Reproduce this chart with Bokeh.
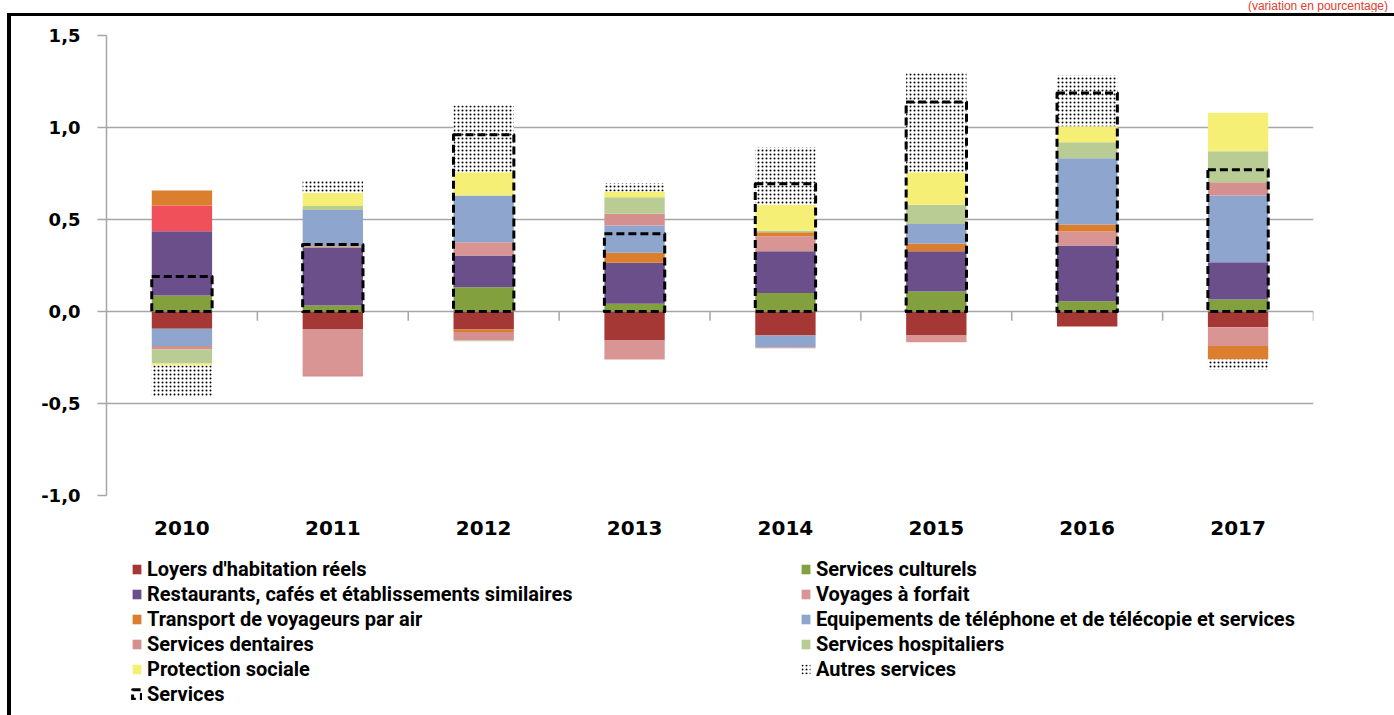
import numpy as np
from bokeh.plotting import figure
from bokeh.layouts import column
from bokeh.models import Range1d, FixedTicker, Legend, LegendItem, Div
from bokeh.embed import file_html
from bokeh.resources import INLINE

# ---------------- data ----------------
years = ["2010", "2011", "2012", "2013", "2014", "2015", "2016", "2017"]

loyers       = [-0.094, -0.098, -0.098, -0.158, -0.130, -0.130, -0.082, -0.085]
culturels    = [0.087, 0.033, 0.132, 0.042, 0.100, 0.109, 0.056, 0.065]
restaurants  = [0.349, 0.313, 0.172, 0.223, 0.228, 0.219, 0.303, 0.203]
voyages      = [0.140, -0.241, 0.073, -0.103, 0.081, -0.037, 0.076, -0.103]
transport    = [0.082, 0.006, -0.014, 0.054, 0.022, 0.040, 0.038, -0.073]
equipements  = [-0.094, 0.200, 0.253, 0.148, -0.064, 0.108, 0.360, 0.362]
dentaires    = [-0.018, -0.014, -0.046, 0.064, -0.006, 0.000, 0.000, 0.073]
hospitaliers = [-0.077, 0.022, -0.004, 0.090, 0.009, 0.104, 0.087, 0.168]
protection   = [-0.010, 0.072, 0.127, 0.031, 0.140, 0.177, 0.087, 0.209]
autres       = [-0.169, 0.068, 0.363, 0.047, 0.313, 0.538, 0.276, -0.054]
services     = [0.190, 0.364, 0.960, 0.422, 0.694, 1.138, 1.188, 0.770]

series_names = [
    "Loyers d'habitation réels",
    "Services culturels",
    "Restaurants, cafés et établissements similaires",
    "Voyages à forfait",
    "Transport de voyageurs par air",
    "Equipements de téléphone et de télécopie et services",
    "Services dentaires",
    "Services hospitaliers",
    "Protection sociale",
    "Autres services",
]
series_values = [loyers, culturels, restaurants, voyages, transport,
                 equipements, dentaires, hospitaliers, protection, autres]
services_name = "Services"

y_ticks = [-1.0, -0.5, 0.0, 0.5, 1.0, 1.5]
y_tick_labels = ["-1,0", "-0,5", "0,0", "0,5", "1,0", "1,5"]

unit_text = "(variation en pourcentage)"

# ---------------- styles ----------------
colors = ["#A53834", "#83A03E", "#6A4F8B", "#D99594", "#DB7E2E",
          "#8EA6CD", "#D4908F", "#B9CC94", "#F5F075", "#FFFFFF"]
GRID = "#A6A6A6"
TICK_FONT = "DejaVu Sans"
LEG_FONT = "Roboto"
HATCH = dict(hatch_pattern="dot", hatch_color="black", hatch_scale=4, hatch_weight=2)
SERV = dict(line_color="black", line_width=3, line_dash="8 4", line_join="round")

W, H_TOP, H_MAIN, H_LEG = 1394, 12, 543, 160

# ---------------- unit text strip ----------------
top = Div(text=unit_text, width=W - 6, height=H_TOP, margin=0,
          styles={"color": "#E0402E", "font-size": "12px", "line-height": "12px",
                  "text-align": "right", "font-family": "Liberation Sans",
                  "overflow": "visible"})

# ---------------- main chart ----------------
p = figure(width=W, height=H_MAIN, x_range=Range1d(0, 8), y_range=Range1d(-1.0, 1.5),
           output_backend="svg", toolbar_location=None,
           min_border_left=106, min_border_right=81,
           min_border_top=23, min_border_bottom=60)
p.outline_line_color = None
p.background_fill_color = "white"
p.border_fill_color = None
p.styles = {
    "background-color": "white",
    "background-image": "linear-gradient(#000,#000), linear-gradient(#000,#000)",
    "background-size": "100% 3px, 4px 100%",
    "background-position": "7px 1px, 7px 1px",
    "background-repeat": "no-repeat",
}

n = len(years)
xc = np.arange(n) + 0.5
half = 0.2

pos = np.zeros(n)
neg = np.zeros(n)
for i, (name, vals) in enumerate(zip(series_names, series_values)):
    v = np.array(vals, dtype=float)
    bottom = np.where(v >= 0, pos, neg + v)
    topv = np.where(v >= 0, pos + v, neg)
    pos = pos + np.maximum(v, 0)
    neg = neg + np.minimum(v, 0)
    if name == "Autres services":
        p.quad(left=xc - half, right=xc + half, bottom=bottom, top=topv,
               fill_color="white", line_color=None, **HATCH)
    else:
        fc = [colors[i]] * n
        if name == "Voyages à forfait":
            fc[0] = "#F0505A"
        p.quad(left=xc - half, right=xc + half, bottom=bottom, top=topv,
               fill_color=fc, line_color=None)

p.quad(left=xc - half, right=xc + half, bottom=0, top=services, fill_alpha=0, **SERV)

# category boundary tick marks on the zero line
p.segment(x0=np.arange(1, n + 1), y0=0, x1=np.arange(1, n + 1), y1=-0.05,
          line_color=GRID, line_width=1.5)

p.xgrid.visible = False
p.ygrid.ticker = FixedTicker(ticks=y_ticks)
p.ygrid.grid_line_color = GRID
p.ygrid.grid_line_width = 1.5

ya = p.yaxis[0]
ya.ticker = FixedTicker(ticks=y_ticks)
ya.major_label_overrides = {t: l for t, l in zip(y_ticks, y_tick_labels)}
ya.axis_line_color = GRID
ya.axis_line_width = 1.5
ya.major_tick_line_color = GRID
ya.major_tick_line_width = 1.5
ya.major_tick_out = 9
ya.major_tick_in = 0
ya.minor_tick_line_color = None
ya.major_label_standoff = 17
ya.major_label_text_font = TICK_FONT
ya.major_label_text_font_style = "bold"
ya.major_label_text_font_size = "18px"
ya.major_label_text_color = "black"

xa = p.xaxis[0]
xa.ticker = FixedTicker(ticks=list(xc))
xa.major_label_overrides = {float(x): y for x, y in zip(xc, years)}
xa.axis_line_color = None
xa.major_tick_line_color = None
xa.minor_tick_line_color = None
xa.major_label_standoff = 19
xa.major_label_text_font = TICK_FONT
xa.major_label_text_font_style = "bold"
xa.major_label_text_font_size = "20px"
xa.major_label_text_color = "black"

# ---------------- legend strip ----------------
q = figure(width=W, height=H_LEG, x_range=Range1d(0, 1), y_range=Range1d(0, 1),
           output_backend="svg", toolbar_location=None,
           x_axis_location=None, y_axis_location=None,
           min_border_left=0, min_border_right=0,
           min_border_top=0, min_border_bottom=0)
q.outline_line_color = None
q.grid.visible = False
q.background_fill_color = None
q.border_fill_color = None
q.styles = {
    "background-color": "white",
    "background-image": "linear-gradient(#000,#000)",
    "background-size": "4px 100%",
    "background-position": "7px 0px",
    "background-repeat": "no-repeat",
}

nan = [np.nan]
swatches = []
for i, name in enumerate(series_names):
    if name == "Autres services":
        r = q.quad(left=nan, right=nan, bottom=nan, top=nan, fill_color="white",
                   line_color=None, **HATCH)
    else:
        r = q.quad(left=nan, right=nan, bottom=nan, top=nan, fill_color=colors[i],
                   line_color=None)
    swatches.append(r)
r_serv = q.quad(left=nan, right=nan, bottom=nan, top=nan, fill_alpha=0, **SERV)

def make_legend(items, x, y):
    return Legend(items=items, location=(x, y), orientation="vertical",
                  border_line_color=None, background_fill_alpha=0,
                  padding=0, margin=0, spacing=1, label_standoff=5,
                  glyph_width=11, glyph_height=12, label_height=24,
                  label_text_font=LEG_FONT, label_text_font_style="bold",
                  label_text_font_size="20px", label_text_color="black")

left_items = [LegendItem(label=series_names[k], renderers=[swatches[k]], index=0)
              for k in (0, 2, 4, 6, 8)]
left_items.append(LegendItem(label=services_name, renderers=[r_serv], index=0))
right_items = [LegendItem(label=series_names[k], renderers=[swatches[k]], index=0)
               for k in (1, 3, 5, 7, 9)]

# legend strip frame is aligned with the chart frame (starts 106 px from the left)
q.add_layout(make_legend(left_items, 25, 9))
q.add_layout(make_legend(right_items, 694, 34))

open("out.html", "w").write(file_html(column(top, p, q, spacing=0), INLINE))
